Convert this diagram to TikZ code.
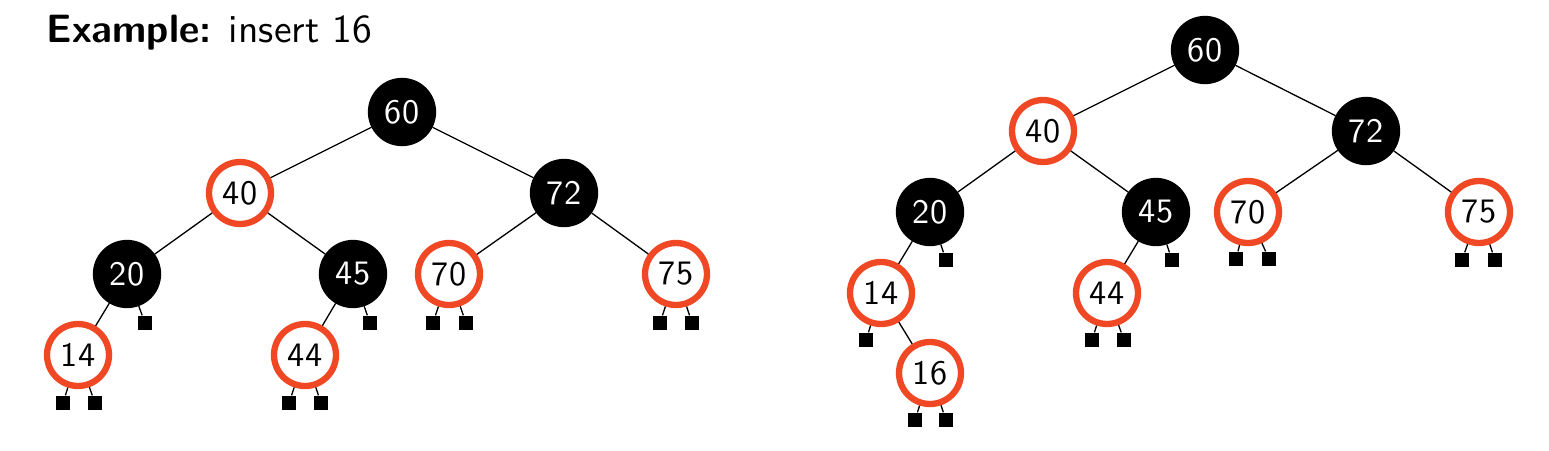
\documentclass[tikz,border=0pt]{standalone}
\usepackage{fontspec}
\newfontfamily\slidefont{lmsans10-regular.otf}[BoldFont=lmsans10-bold.otf]
\definecolor{rbred}{RGB}{240,72,36}
\tikzset{
  rnode/.style={circle,draw=rbred,fill=white,line width=3.6pt,minimum size=1.24cm,inner sep=0pt,font=\fontsize{19.5}{22}\slidefont},
  bnode/.style={circle,draw=black,fill=black,text=white,line width=3.6pt,minimum size=1.24cm,inner sep=0pt,font=\fontsize{19.5}{22}\slidefont},
  leaf/.style={rectangle,fill=black,minimum size=0.28cm,inner sep=0pt}
}
\begin{document}
\begin{tikzpicture}[x=0.02cm,y=-0.02cm,line width=0.75pt]
\useasboundingbox (0,0) rectangle (1549,450);
\node[anchor=base west,inner sep=0pt,font=\fontsize{22.5}{25}\slidefont] (title) at (46,42) {\textbf{Example:} insert 16};
% before
\node[bnode] (a60) at (402,112) {60};
\node[rnode] (a40) at (240,193) {40};
\node[bnode] (a72) at (564,193) {72};
\node[bnode] (a20) at (127,274) {20};
\node[bnode] (a45) at (353,274) {45};
\node[rnode] (a70) at (449,274) {70};
\node[rnode] (a75) at (676,274) {75};
\node[rnode] (a14) at (78,355) {14};
\node[rnode] (a44) at (305,355) {44};
% after
\node[bnode] (b60) at (1205,50) {60};
\node[rnode] (b40) at (1043,131) {40};
\node[bnode] (b72) at (1366,131) {72};
\node[bnode] (b20) at (930,212) {20};
\node[bnode] (b45) at (1156,212) {45};
\node[rnode] (b70) at (1248,212) {70};
\node[rnode] (b75) at (1479,212) {75};
\node[rnode] (b14) at (881,293) {14};
\node[rnode] (b44) at (1107,293) {44};
\node[rnode] (b16) at (930,373) {16};
\foreach \u/\v in {a60/a40,a60/a72,a40/a20,a40/a45,a72/a70,a72/a75,a20/a14,a45/a44,
  b60/b40,b60/b72,b40/b20,b40/b45,b72/b70,b72/b75,b20/b14,b45/b44,b14/b16}
\draw (\u) -- (\v);
% nil leaves
\foreach \p/\x/\y [count=\i] in {a20/145/323,a14/63/403,a14/95/403,a44/289/403,a44/321/403,
  a45/370/323,a70/433/323,a70/466/323,a75/660/323,a75/692/323,
  b20/946/260,b14/866/340,b16/915/420,b16/946/420,b44/1092/340,b44/1124/340,
  b45/1172/260,b70/1236/259,b70/1269/259,b75/1462/260,b75/1495/260}
{
\node[leaf] (nil\i) at (\x,\y) {};
\draw (\p) -- (nil\i);
}
\end{tikzpicture}
\end{document}
